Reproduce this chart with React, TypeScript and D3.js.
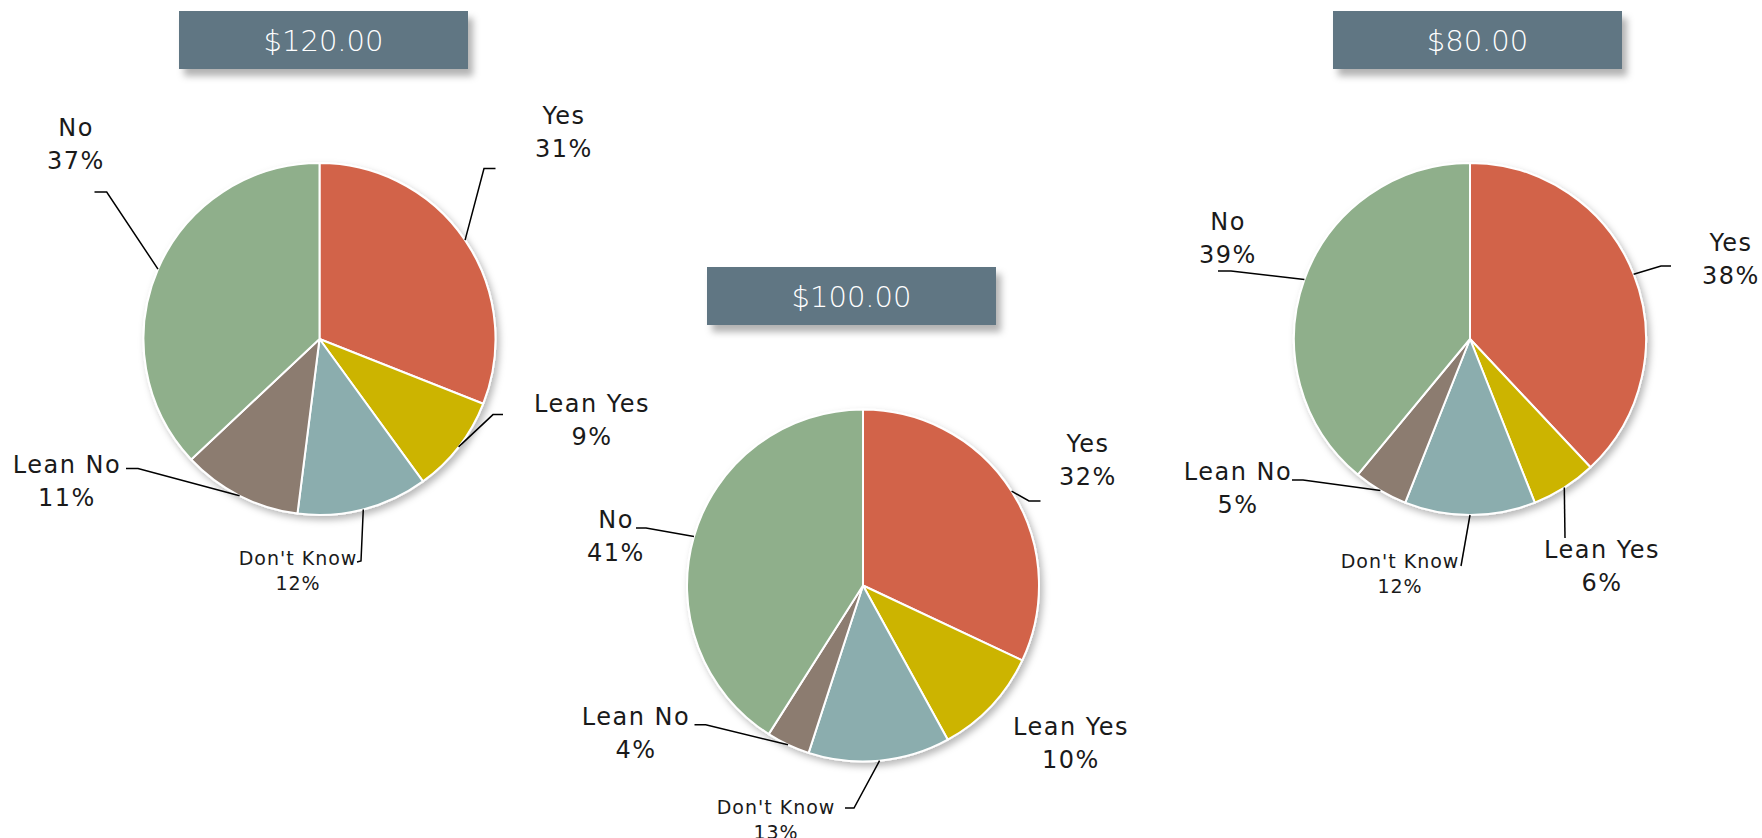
import React from "react";
import * as d3 from "d3";

// ---------- data ----------
const categories = ["Yes", "Lean Yes", "Don't Know", "Lean No", "No"];
const titles = ["$120.00", "$100.00", "$80.00"];
const values120 = [31, 9, 12, 11, 37];
const values100 = [32, 10, 13, 4, 41];
const values80 = [38, 6, 12, 5, 39];
const seriesValues = [values120, values100, values80];

// ---------- styles / layout ----------
const colors = ["#D2644A", "#CCB400", "#8BADAE", "#8C7B70", "#8FAF8B"];
const W = 1762;
const H = 838;
const R = 176;
const centers: [number, number][] = [
  [319.5, 339],
  [863, 585.5],
  [1470, 339],
];
const titleBoxes: [number, number][] = [
  [179, 11],
  [707, 267],
  [1333, 11],
];
const BOX_W = 289;
const BOX_H = 58;

type LabelLayout = {
  lx: number;
  ly: number;
  elbow?: [number, number];
  end?: [number, number];
};

// label / leader offsets relative to each pie centre
const labelLayouts: LabelLayout[][] = [
  [
    { lx: 244.5, ly: -215, elbow: [164.5, -170.5], end: [176, -170.5] },
    { lx: 272.5, ly: 73, elbow: [173.5, 75.6], end: [183.5, 75.6] },
    { lx: -21.5, ly: 226, elbow: [41.5, 222], end: [37.5, 223] },
    { lx: -252.5, ly: 134, elbow: [-181.5, 129.6], end: [-193.5, 129.6] },
    { lx: -243.5, ly: -203, elbow: [-212.8, -147], end: [-225, -147] },
  ],
  [
    { lx: 225, ly: -133.5, elbow: [166, -84.5], end: [177.5, -84.5] },
    { lx: 208, ly: 149.5 },
    { lx: -87, ly: 228.5, elbow: [-9, 222.5], end: [-18, 222.5] },
    { lx: -227, ly: 139.5, elbow: [-157.3, 139.3], end: [-168.5, 139.3] },
    { lx: -247, ly: -57.5, elbow: [-217, -57.5], end: [-227, -57.5] },
  ],
  [
    { lx: 261, ly: -88, elbow: [191, -73], end: [201, -73] },
    { lx: 132, ly: 219, elbow: [95, 199], end: [95, 199] },
    { lx: -70, ly: 229, elbow: [-9, 227], end: [-9, 227] },
    { lx: -232, ly: 141, elbow: [-167, 141], end: [-178, 141] },
    { lx: -242, ly: -109, elbow: [-239, -68], end: [-252, -68] },
  ],
];

const FONT = "'Century Gothic', 'DejaVu Sans', sans-serif";

function Pie({ idx }: { idx: number }) {
  const values = seriesValues[idx];
  const [cx, cy] = centers[idx];
  const pieGen = d3
    .pie<number>()
    .sort(null)
    .value((d) => d);
  const arcs = pieGen(values);
  const arcGen = d3.arc<d3.PieArcDatum<number>>().innerRadius(0).outerRadius(R);
  const total = d3.sum(values);
  const fmt = d3.format(".0%");

  return (
    <g transform={`translate(${cx},${cy})`}>
      <g filter="url(#pieShadow)">
        {arcs.map((a, i) => (
          <path
            key={i}
            d={arcGen(a) || ""}
            fill={colors[i]}
            stroke="#FFFFFF"
            strokeWidth={2}
            strokeLinejoin="round"
          />
        ))}
      </g>
      {arcs.map((a, i) => {
        const L = labelLayouts[idx][i];
        const mid = (a.startAngle + a.endAngle) / 2;
        const sx = R * Math.sin(mid);
        const sy = -R * Math.cos(mid);
        const small = categories[i] === "Don't Know";
        const fs = small ? 19 : 24;
        const ls = small ? 1 : 1.5;
        const lh = small ? 25 : 33;
        return (
          <g key={"l" + i}>
            {L.elbow && L.end && (
              <polyline
                points={`${sx},${sy} ${L.elbow[0]},${L.elbow[1]} ${L.end[0]},${L.end[1]}`}
                fill="none"
                stroke="#000"
                strokeWidth={1.5}
              />
            )}
            <text
              x={L.lx}
              y={L.ly}
              textAnchor="middle"
              fontFamily={FONT}
              fontSize={fs}
              letterSpacing={ls}
              fill="#1a1a1a"
            >
              <tspan x={L.lx}>{categories[i]}</tspan>
              <tspan x={L.lx} dy={lh}>
                {fmt(values[i] / total)}
              </tspan>
            </text>
          </g>
        );
      })}
    </g>
  );
}

export default function App() {
  return (
    <svg
      width={W}
      height={H}
      viewBox={`0 0 ${W} ${H}`}
      style={{ position: "absolute", left: 0, top: 0, background: "#fff" }}
    >
      <defs>
        <filter id="pieShadow" x="-20%" y="-20%" width="140%" height="140%">
          <feDropShadow dx={3} dy={4} stdDeviation={3.5} floodColor="#000" floodOpacity={0.28} />
        </filter>
        <filter id="boxShadow" x="-10%" y="-30%" width="125%" height="170%">
          <feDropShadow dx={5} dy={7} stdDeviation={3.5} floodColor="#000" floodOpacity={0.3} />
        </filter>
      </defs>
      <rect x={0} y={0} width={W} height={H} fill="#fff" />
      {titles.map((t, i) => (
        <g key={t}>
          <rect
            x={titleBoxes[i][0]}
            y={titleBoxes[i][1]}
            width={BOX_W}
            height={BOX_H}
            fill="#607683"
            filter="url(#boxShadow)"
          />
          <text
            x={titleBoxes[i][0] + BOX_W / 2}
            y={titleBoxes[i][1] + 40}
            textAnchor="middle"
            fontFamily={FONT}
            fontSize={29}
            fontWeight={300}
            fill="#FFFFFF"
          >
            {t}
          </text>
        </g>
      ))}
      {seriesValues.map((_, i) => (
        <Pie key={i} idx={i} />
      ))}
    </svg>
  );
}
